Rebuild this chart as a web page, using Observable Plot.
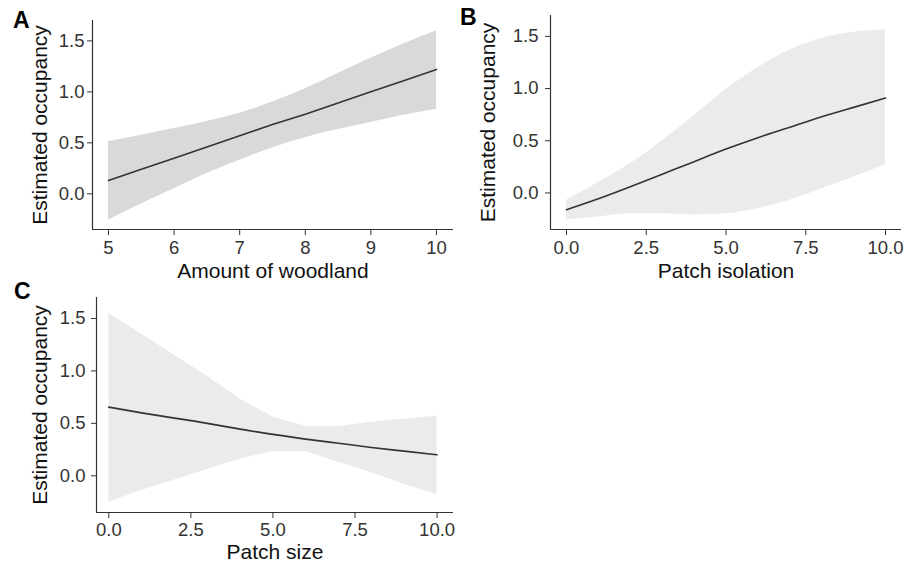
<!DOCTYPE html>
<html>
<head>
<meta charset="utf-8">
<script src="https://cdn.jsdelivr.net/npm/d3@7"></script>
<script src="https://cdn.jsdelivr.net/npm/@observablehq/plot@0.6"></script>
<style>
  html, body { margin: 0; padding: 0; background: white; }
  #fig { position: relative; width: 914px; height: 562px; font-family: "Liberation Sans", Arial, sans-serif; }
  .panel { position: absolute; }
  .tag { position: absolute; font-weight: bold; font-size: 23px; color: #000; line-height: 1; }
</style>
</head>
<body>
<div id="fig"></div>
<script>
// ---- Panel A: Amount of woodland ----
const woodlandX     = [5, 5.5, 6, 6.5, 7, 7.5, 8, 8.5, 9, 9.5, 10];
const woodlandFit   = [0.13, 0.24, 0.35, 0.46, 0.57, 0.68, 0.78, 0.89, 1.00, 1.11, 1.22];
const woodlandLower = [-0.26, -0.10, 0.05, 0.20, 0.33, 0.45, 0.55, 0.63, 0.70, 0.77, 0.83];
const woodlandUpper = [0.51, 0.575, 0.64, 0.71, 0.79, 0.90, 1.03, 1.18, 1.33, 1.47, 1.60];

// ---- Panel B: Patch isolation ----
const isolationX     = [0, 1, 2, 3, 4, 5, 6, 7, 8, 9, 10];
const isolationFit   = [-0.16, -0.055, 0.06, 0.18, 0.30, 0.42, 0.53, 0.63, 0.73, 0.82, 0.91];
const isolationLower = [-0.26, -0.23, -0.20, -0.20, -0.21, -0.20, -0.15, -0.07, 0.04, 0.15, 0.27];
const isolationUpper = [-0.07, 0.10, 0.28, 0.50, 0.74, 0.99, 1.20, 1.37, 1.48, 1.54, 1.56];

// ---- Panel C: Patch size ----
const sizeX     = [0, 1, 2, 3, 4, 5, 6, 7, 8, 9, 10];
const sizeFit   = [0.655, 0.60, 0.55, 0.50, 0.445, 0.395, 0.35, 0.31, 0.27, 0.235, 0.20];
const sizeLower = [-0.25, -0.14, -0.04, 0.06, 0.16, 0.23, 0.23, 0.13, 0.03, -0.08, -0.18];
const sizeUpper = [1.55, 1.35, 1.15, 0.95, 0.73, 0.56, 0.47, 0.47, 0.51, 0.54, 0.57];

// ---- Tick labels ----
const yTicks = [0, 0.5, 1.0, 1.5];
const woodlandTicks = [5, 6, 7, 8, 9, 10];
const patchTicks = [0, 2.5, 5, 7.5, 10];
const yTitle = "Estimated occupancy";

function rows(xs, fit, lo, hi) {
  return xs.map((x, i) => ({x, fit: fit[i], lo: lo[i], hi: hi[i]}));
}

function panel(cfg) {
  const data = rows(cfg.x, cfg.fit, cfg.lo, cfg.hi);
  const yDomain = [-0.35, 1.70];
  return Plot.plot({
    width: cfg.width, height: cfg.height,
    marginLeft: cfg.ml, marginRight: cfg.mr, marginTop: cfg.mt, marginBottom: cfg.mb,
    style: {fontFamily: '"Liberation Sans", Arial, sans-serif', fontSize: "18px", background: "white", overflow: "visible"},
    x: {domain: cfg.xDomain, axis: null},
    y: {domain: yDomain, axis: null},
    marks: [
      Plot.areaY(data, {x: "x", y1: "lo", y2: "hi", fill: cfg.fill, curve: cfg.curve}),
      Plot.lineY(data, {x: "x", y: "fit", stroke: "#333", strokeWidth: 1.6, curve: cfg.lineCurve}),
      Plot.ruleX([cfg.xDomain[0]], {stroke: "#333", strokeWidth: 1.2}),
      Plot.ruleY([yDomain[0]], {stroke: "#333", strokeWidth: 1.2}),
      Plot.axisX(cfg.xTicks, {tickSize: 6, tickPadding: cfg.xPad, fontSize: 18.5, color: "#333", tickFormat: cfg.xFormat, label: null}),
      Plot.axisY(yTicks, {tickSize: 5, tickPadding: cfg.yPad, fontSize: 18.5, color: "#333", tickFormat: d3.format(".1f"), label: null}),
      Plot.text([cfg.xTitle], {frameAnchor: "bottom", lineAnchor: "bottom", dy: cfg.xTitleDy, fontSize: 21, fill: "#111"}),
      Plot.text([yTitle], {frameAnchor: "left", textAnchor: "middle", rotate: -90, dx: cfg.yTitleDx, fontSize: 21, fill: "#111"})
    ]
  });
}

const fig = document.getElementById("fig");
function place(node, left, top) {
  const d = document.createElement("div");
  d.className = "panel";
  d.style.left = left + "px"; d.style.top = top + "px";
  d.appendChild(node);
  fig.appendChild(d);
}
function tag(text, left, top) {
  const d = document.createElement("div");
  d.className = "tag";
  d.style.left = left + "px"; d.style.top = top + "px";
  d.textContent = text;
  fig.appendChild(d);
}

place(panel({
  x: woodlandX, fit: woodlandFit, lo: woodlandLower, hi: woodlandUpper,
  width: 457, height: 280, ml: 92, mr: 4, mt: 20, mb: 51,
  xDomain: [4.756, 10.26], xTicks: woodlandTicks, xFormat: d3.format("d"),
  xTitle: "Amount of woodland", fill: "#d9d9d9", curve: "natural", lineCurve: "linear",
  xPad: 5, yPad: 3, yTitleDx: -52, xTitleDy: 48
}), 0, 0);

place(panel({
  x: isolationX, fit: isolationFit, lo: isolationLower, hi: isolationUpper,
  width: 457, height: 280, ml: 93, mr: 13, mt: 15, mb: 51,
  xDomain: [-0.5, 10.5], xTicks: patchTicks, xFormat: d3.format(".1f"),
  xTitle: "Patch isolation", fill: "#ebebeb", curve: "monotone-x", lineCurve: "natural",
  xPad: 5, yPad: 7, yTitleDx: -62, xTitleDy: 48
}), 457, 0);

place(panel({
  x: sizeX, fit: sizeFit, lo: sizeLower, hi: sizeUpper,
  width: 457, height: 282, ml: 96, mr: 4, mt: 17, mb: 50,
  xDomain: [-0.375, 10.5], xTicks: patchTicks, xFormat: d3.format(".1f"),
  xTitle: "Patch size", fill: "#ebebeb", curve: "linear", lineCurve: "natural",
  xPad: 4, yPad: 6, yTitleDx: -56, xTitleDy: 46
}), 0, 280);

tag("A", 13, 9);
tag("B", 460, 6);
tag("C", 14, 280);
</script>
</body>
</html>
